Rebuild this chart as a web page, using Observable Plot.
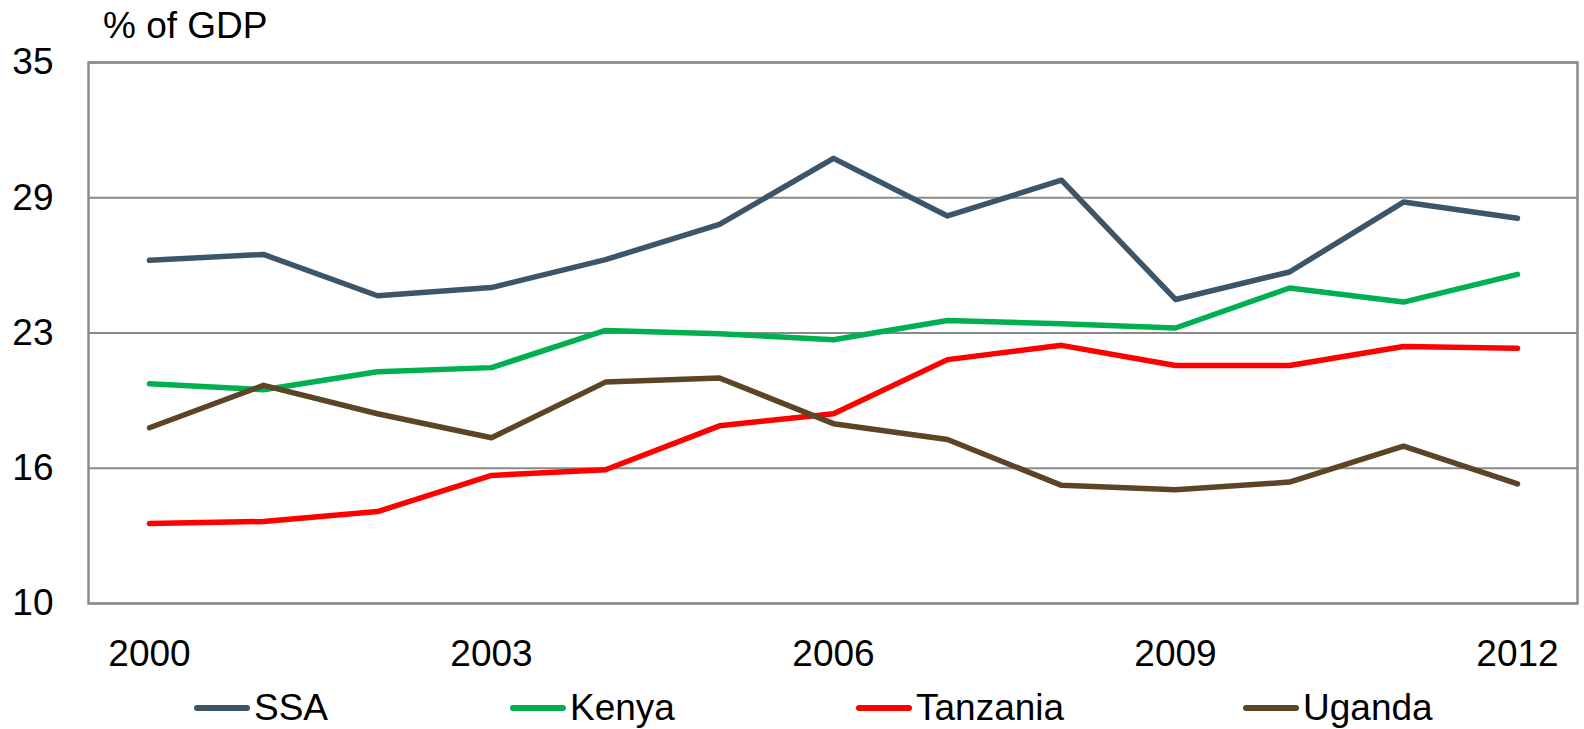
<!DOCTYPE html>
<html>
<head>
<meta charset="utf-8">
<script src="https://cdn.jsdelivr.net/npm/d3@7"></script>
<script src="https://cdn.jsdelivr.net/npm/@observablehq/plot@0.6"></script>
<style>
  html, body { margin: 0; padding: 0; background: #fff; }
  #wrap { position: relative; width: 1584px; height: 729px; font-family: "Liberation Sans", Arial, sans-serif; color: #000; }
  #title { position: absolute; left: 103px; top: 6px; font-size: 37px; line-height: 40px; }
  #legend { position: absolute; left: 0; top: 686px; width: 1584px; height: 44px; }
  .item { position: absolute; top: 0; display: flex; align-items: center; font-size: 37px; line-height: 44px; }
  .sw { width: 56px; height: 6px; border-radius: 3px; margin-right: 4px; }
</style>
</head>
<body>
<div id="wrap">
  <div id="chart"></div>
  <div id="title">% of GDP</div>
  <div id="legend"></div>
</div>
<script>
const years = [2000, 2001, 2002, 2003, 2004, 2005, 2006, 2007, 2008, 2009, 2010, 2011, 2012];
const seriesNames = ["SSA", "Kenya", "Tanzania", "Uganda"];
const seriesColors = ["#3D5569", "#00B050", "#FF0000", "#5B4526"];
const ssa      = [25.86, 26.13, 24.22, 24.6, 25.89, 27.52, 30.57, 27.91, 29.56, 24.05, 25.32, 28.55, 27.8];
const kenya    = [20.16, 19.88, 20.71, 20.9, 22.62, 22.47, 22.19, 23.08, 22.93, 22.73, 24.58, 23.93, 25.21];
const tanzania = [13.7, 13.79, 14.25, 15.92, 16.18, 18.21, 18.77, 21.27, 21.93, 21.0, 21.0, 21.88, 21.8];
const uganda   = [18.12, 20.08, 18.77, 17.66, 20.23, 20.42, 18.31, 17.58, 15.46, 15.26, 15.61, 17.27, 15.53];
const xTickYears = [2000, 2003, 2006, 2009, 2012];
const yTicks = [10, 16.25, 22.5, 28.75, 35];
const yTickLabels = ["10", "16", "23", "29", "35"];

const allSeries = [ssa, kenya, tanzania, uganda];
const data = [];
seriesNames.forEach((name, i) => {
  years.forEach((yr, j) => data.push({series: name, year: yr, value: allSeries[i][j]}));
});

const chart = Plot.plot({
  width: 1584,
  height: 729,
  marginLeft: 88,
  marginRight: 7,
  marginTop: 62,
  marginBottom: 126,
  style: { fontFamily: "'Liberation Sans', Arial, sans-serif", fontSize: "37px", color: "#000", background: "#fff" },
  x: { type: "point", domain: years, padding: 0.5, align: 0.5 },
  y: { domain: [10, 35] },
  color: { domain: seriesNames, range: seriesColors },
  marks: [
    Plot.gridY(yTicks, { stroke: "#8a8a8a", strokeOpacity: 1, strokeWidth: 2 }),
    Plot.frame({ stroke: "#8a8a8a", strokeWidth: 2.5 }),
    Plot.axisY(yTicks, { tickSize: 0, tickPadding: 35, tickFormat: d => yTickLabels[yTicks.indexOf(d)], fontSize: 37, fill: "#000", label: null }),
    Plot.axisX(xTickYears, { tickSize: 0, tickPadding: 36, tickFormat: d => String(d), fontSize: 37, fill: "#000", label: null }),
    Plot.line(data, { x: "year", y: "value", z: "series", stroke: "series", strokeWidth: 5.5, strokeLinejoin: "round", strokeLinecap: "round" })
  ]
});
document.getElementById("chart").appendChild(chart);

const legendLeft = [194, 510, 856, 1243];
const legend = document.getElementById("legend");
seriesNames.forEach((name, i) => {
  const it = document.createElement("div");
  it.className = "item";
  it.style.left = legendLeft[i] + "px";
  const sw = document.createElement("div");
  sw.className = "sw";
  sw.style.background = seriesColors[i];
  const tx = document.createElement("span");
  tx.textContent = name;
  it.appendChild(sw); it.appendChild(tx);
  legend.appendChild(it);
});
</script>
</body>
</html>
